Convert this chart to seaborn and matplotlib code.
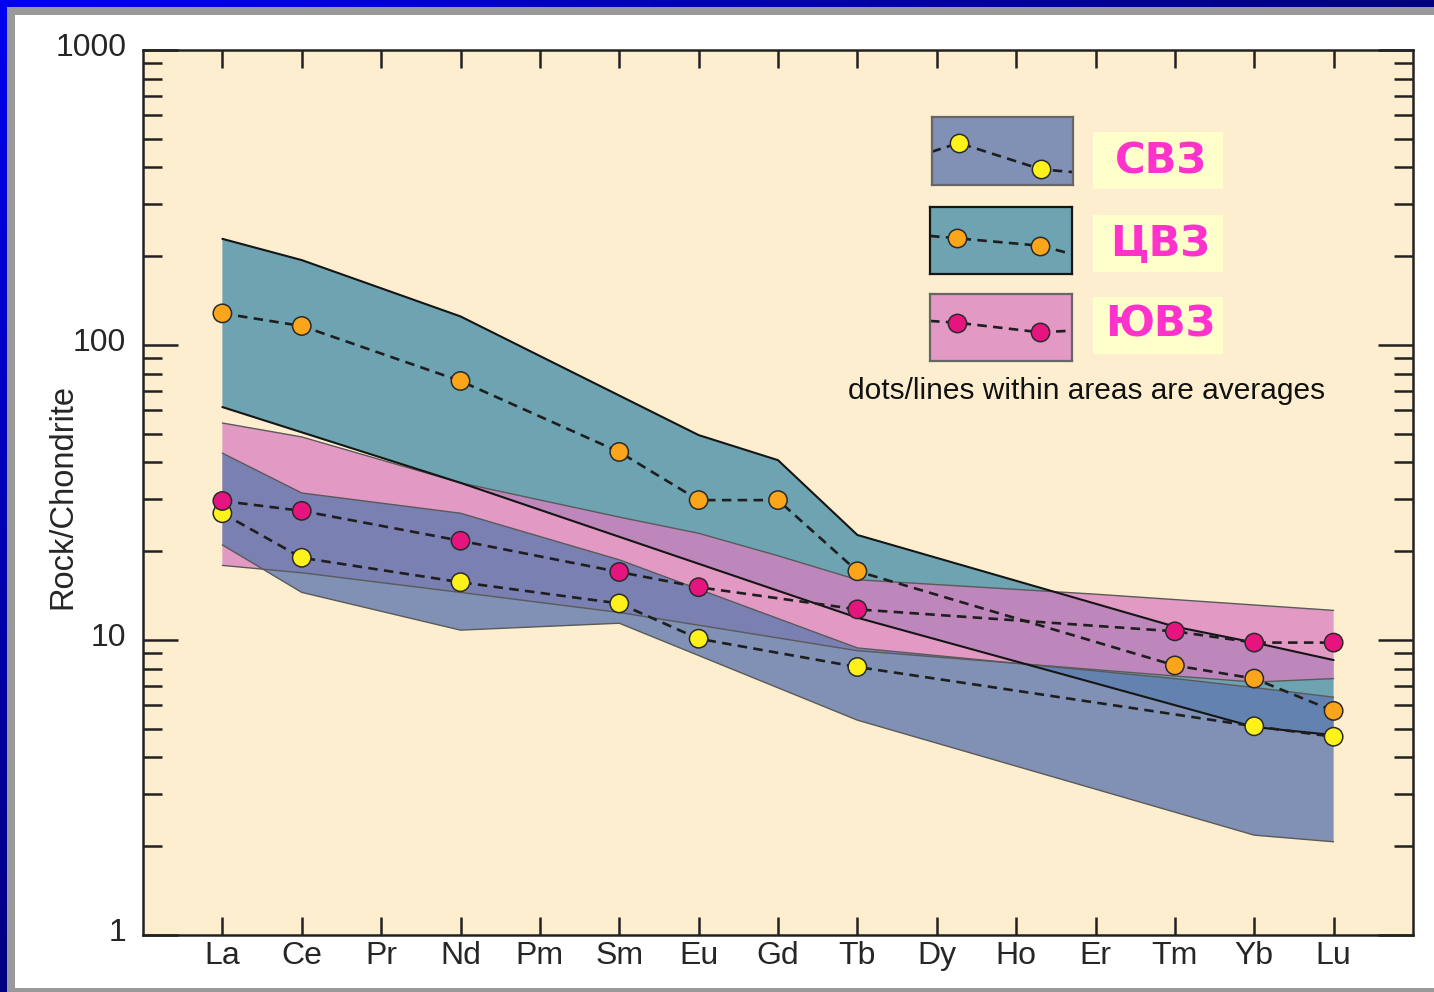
import numpy as np
import pandas as pd
import matplotlib
matplotlib.use('Agg')
import matplotlib.pyplot as plt
import seaborn as sns
from matplotlib.patches import Rectangle
from matplotlib.ticker import LogLocator, NullFormatter
from matplotlib.transforms import ScaledTranslation

# --- data ---
elements = ['La', 'Ce', 'Pr', 'Nd', 'Pm', 'Sm', 'Eu', 'Gd', 'Tb', 'Dy', 'Ho', 'Er', 'Tm', 'Yb', 'Lu']
zones = ['СВЗ', 'ЦВЗ', 'ЮВЗ']

# averages (dots / dashed lines)
svz_avg_el = ['La', 'Ce', 'Nd', 'Sm', 'Eu', 'Tb', 'Yb', 'Lu']
svz_avg = [26.9, 19.0, 15.7, 13.3, 10.1, 8.1, 5.1, 4.7]
cvz_avg_el = ['La', 'Ce', 'Nd', 'Sm', 'Eu', 'Gd', 'Tb', 'Tm', 'Yb', 'Lu']
cvz_avg = [128, 116, 75.5, 43.4, 29.8, 29.8, 17.1, 8.2, 7.4, 5.75]
yuvz_avg_el = ['La', 'Ce', 'Nd', 'Sm', 'Eu', 'Tb', 'Tm', 'Yb', 'Lu']
yuvz_avg = [29.6, 27.4, 21.7, 17.0, 15.1, 12.7, 10.7, 9.8, 9.8]

# envelopes of the areas
cvz_up_el = ['La', 'Ce', 'Nd', 'Eu', 'Gd', 'Tb', 'Tm', 'Yb', 'Lu']
cvz_up = [229, 194, 125, 49.5, 40.7, 22.7, 11.1, 9.8, 8.55]
cvz_lo_el = ['La', 'Nd', 'Tb', 'Yb', 'Lu']
cvz_lo = [61.6, 34.1, 11.9, 5.07, 4.76]

yuvz_up_el = ['La', 'Ce', 'Nd', 'Sm', 'Eu', 'Gd', 'Tb', 'Er', 'Lu']
yuvz_up = [54.4, 48.8, 34.1, 26.1, 23.0, 19.3, 16.0, 14.3, 12.6]
yuvz_lo_el = ['La', 'Ce', 'Nd', 'Sm', 'Tb', 'Tm', 'Yb', 'Lu']
yuvz_lo = [17.9, 16.9, 14.5, 12.4, 9.2, 7.55, 7.2, 7.4]

svz_up_el = ['La', 'Ce', 'Nd', 'Sm', 'Tb', 'Tm', 'Yb', 'Lu']
svz_up = [43.0, 31.5, 26.9, 18.7, 9.4, 7.4, 6.9, 6.4]
svz_lo_el = ['La', 'Ce', 'Nd', 'Sm', 'Tb', 'Yb', 'Lu']
svz_lo = [21.0, 14.5, 10.8, 11.4, 5.35, 2.18, 2.07]

# legend sample profiles (inside each legend box, 0..1)
leg_x = [0, 0.192, 0.775, 1]
leg_y = {'СВЗ': [0.49, 0.62, 0.23, 0.19],
         'ЦВЗ': [0.57, 0.535, 0.424, 0.30],
         'ЮВЗ': [0.60, 0.574, 0.43, 0.454]}

# --- styles ---
fill_col = {'ЦВЗ': '#6EA3B2', 'ЮВЗ': '#DA7EC0', 'СВЗ': '#617AAF'}
fill_alpha = {'ЦВЗ': 1.0, 'ЮВЗ': 0.75, 'СВЗ': 0.8}
edge_col = {'ЦВЗ': '#151515', 'ЮВЗ': '#5a5a5a', 'СВЗ': '#5a5a5a'}
edge_lw = {'ЦВЗ': 1.5, 'ЮВЗ': 1.0, 'СВЗ': 1.0}
dot_col = {'СВЗ': '#FFF21A', 'ЦВЗ': '#FBA51B', 'ЮВЗ': '#E6147F'}
dash = (0, (3.6, 2.4))
dot_size = 175

pos = {el: i + 1 for i, el in enumerate(elements)}

avg_rows = []
for zone, els, vals in [('СВЗ', svz_avg_el, svz_avg), ('ЦВЗ', cvz_avg_el, cvz_avg), ('ЮВЗ', yuvz_avg_el, yuvz_avg)]:
    for e, v in zip(els, vals):
        avg_rows.append({'zone': zone, 'pos': pos[e], 'value': v})
avg_df = pd.DataFrame(avg_rows)

bands = {'ЦВЗ': (cvz_up_el, cvz_up, cvz_lo_el, cvz_lo),
         'ЮВЗ': (yuvz_up_el, yuvz_up, yuvz_lo_el, yuvz_lo),
         'СВЗ': (svz_up_el, svz_up, svz_lo_el, svz_lo)}

sns.set_style('ticks')
plt.rcParams['font.family'] = ['Liberation Sans', 'DejaVu Sans']

W, H = 1434, 992
fig = plt.figure(figsize=(W / 100, H / 100), dpi=100)
fig.patch.set_facecolor('white')

# slide frame: blue gradient border, grey rim, white card
bg = fig.add_axes([0, 0, 1, 1], zorder=-10)
bg.set_axis_off()
xx, yy = np.meshgrid(np.linspace(0, 1, 200), np.linspace(0, 1, 200))
t = np.maximum(xx, yy)
grad = np.zeros((200, 200, 3))
grad[..., 2] = (240 - 112 * t) / 255
bg.imshow(grad, extent=[0, 1, 0, 1], aspect='auto', origin='upper')
bg.add_patch(Rectangle((7 / W, 0), 1, (H - 7) / H, transform=bg.transAxes, facecolor='#999999', edgecolor='none'))
bg.add_patch(Rectangle((15 / W, 4 / H), 1, (H - 19) / H, transform=bg.transAxes, facecolor='white', edgecolor='none'))
bg.set_xlim(0, 1)
bg.set_ylim(0, 1)

ax = fig.add_axes([143 / W, (H - 935) / H, 1270 / W, 885 / H])
ax.set_facecolor('#FDEED0')
ax.set_yscale('log')
ax.set_xlim(0, 16)
ax.set_ylim(1, 1000)

# areas
for z_i, zone in enumerate(['ЦВЗ', 'ЮВЗ', 'СВЗ']):
    up_el, up_v, lo_el, lo_v = bands[zone]
    ux = [pos[e] for e in up_el]
    lx = [pos[e] for e in lo_el]
    ax.fill(ux + lx[::-1], list(up_v) + list(lo_v)[::-1], facecolor=fill_col[zone],
            alpha=fill_alpha[zone], edgecolor='none', zorder=1 + z_i)
for zone in ['ЮВЗ', 'СВЗ', 'ЦВЗ']:
    up_el, up_v, lo_el, lo_v = bands[zone]
    ax.plot([pos[e] for e in up_el], up_v, color=edge_col[zone], lw=edge_lw[zone], zorder=4)
    ax.plot([pos[e] for e in lo_el], lo_v, color=edge_col[zone], lw=edge_lw[zone], zorder=4)

# averages
sns.lineplot(data=avg_df, x='pos', y='value', hue='zone', palette={z: '#1e1e1e' for z in zones},
             estimator=None, sort=False, legend=False, lw=1.9, linestyle=dash, ax=ax, zorder=5)
sns.scatterplot(data=avg_df, x='pos', y='value', hue='zone', palette=dot_col, s=dot_size,
                edgecolor='#2a2a2a', linewidth=1.1, legend=False, ax=ax, zorder=6)

# axes cosmetics
ax.set_xticks(range(1, 16))
ax.set_xticklabels(elements)
ax.set_yticks([1, 10, 100, 1000])
ax.set_yticklabels(['1', '10', '100', '1000'])
ax.yaxis.set_minor_locator(LogLocator(base=10, subs=np.arange(2, 10)))
ax.yaxis.set_minor_formatter(NullFormatter())
ax.tick_params(axis='x', which='major', direction='in', length=13, width=1.8, top=True,
               labelsize=23, pad=4, color='#222')
ax.tick_params(axis='y', which='major', direction='in', length=25, width=1.8, right=True,
               labelsize=23, pad=12, color='#222')
ax.tick_params(axis='y', which='minor', direction='in', length=14, width=1.8, right=True, color='#222')
up_shift = ScaledTranslation(0, 4 / 72, fig.dpi_scale_trans)
for lab in ax.get_yticklabels():
    lab.set_transform(lab.get_transform() + up_shift)
for s in ax.spines.values():
    s.set_linewidth(1.8)
    s.set_color('#222')
ax.set_xlabel('')
ax.set_ylabel('Rock/Chondrite', fontsize=23.5)
ax.yaxis.set_label_coords(-0.051, 0.495)

# legend boxes
box_rect = {'СВЗ': [0.621, 0.8475, 0.1114, 0.0765],
            'ЦВЗ': [0.6197, 0.7469, 0.1116, 0.0754],
            'ЮВЗ': [0.6197, 0.6486, 0.1116, 0.0754]}
label_y = {'СВЗ': (0.8426, 0.8738), 'ЦВЗ': (0.7495, 0.7808), 'ЮВЗ': (0.6562, 0.6893)}
for zone in zones:
    ia = ax.inset_axes(box_rect[zone])
    ia.set_xlim(0, 1)
    ia.set_ylim(0, 1)
    ia.set_xticks([])
    ia.set_yticks([])
    ia.patch.set_facecolor(fill_col[zone])
    ia.patch.set_alpha(fill_alpha[zone])
    for s in ia.spines.values():
        s.set_color(edge_col[zone] if zone == 'ЦВЗ' else '#666666')
        s.set_linewidth(1.6)
    ia.plot(leg_x, leg_y[zone], color='#1e1e1e', lw=1.9, linestyle=dash)
    ia.scatter(leg_x[1:3], leg_y[zone][1:3], s=dot_size, color=dot_col[zone], edgecolors='#2a2a2a',
               linewidths=1.1, zorder=3)
    y0, yc = label_y[zone]
    ax.add_patch(Rectangle((0.7478, y0), 0.1028, 0.0644, transform=ax.transAxes,
                           facecolor='#FFFFCC', edgecolor='none', zorder=7))
    ax.text(0.8012, yc, zone, transform=ax.transAxes, ha='center', va='center', color='#FF33CC',
            fontsize=30, fontweight='bold', family='DejaVu Sans', zorder=8)

ax.text(0.7433, 0.6147, 'dots/lines within areas are averages', transform=ax.transAxes,
        ha='center', va='center', fontsize=21.5, color='#111111', zorder=8)

fig.savefig('out.png', dpi=100)
